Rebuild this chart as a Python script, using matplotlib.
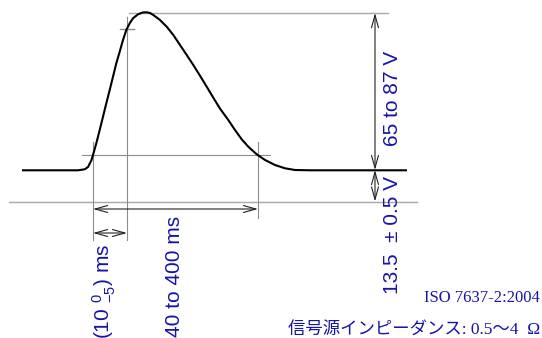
import matplotlib
matplotlib.use("Agg")
import matplotlib.pyplot as plt

plt.rcParams['mathtext.fontset'] = 'custom'
plt.rcParams['mathtext.rm'] = 'Liberation Sans'
plt.rcParams['mathtext.it'] = 'Liberation Sans'
plt.rcParams['mathtext.default'] = 'rm'

# Pulse waveform (schematic coordinates)
curve_x = [22, 78, 84.7, 88, 91.3, 93, 96.3, 99.7, 103, 106.3, 109.7, 113, 116.3,
           119.7, 123, 126.3, 129.7, 133, 138, 143, 146.7, 150, 153.3, 160, 166.7,
           173.3, 180, 186.7, 193.3, 200, 206.7, 213.3, 220, 228.3, 235, 241.7,
           248.3, 256.7, 265, 275, 285, 295, 310, 407]
curve_y = [170.3, 170.3, 169.3, 167, 160.5, 155, 143.3, 130, 116.7, 103.3, 90, 76.7, 63.3,
           51.7, 40, 30, 23.3, 18.3, 14.3, 12.4, 12.3, 13, 15, 20, 26.7,
           35, 45, 55, 65, 75.7, 86.7, 97.7, 108.6, 120, 130, 139.3,
           146.7, 154.3, 160, 165, 168.3, 170, 170.3, 170.3]

# Labels
label_amp = "65 to 87 V"
label_base = "13.5  \u00b1 0.5 V"
label_width = "40 to 400 ms"
label_rise = r"(10 ${}^{0}_{-5}$) ms"
label_std = "ISO 7637-2:2004"
label_imp = "信号源インピーダンス: 0.5～4  Ω"

blue = '#1414aa'
gray = '#8c8c8c'
lgray = '#a8a8a8'

fig = plt.figure(figsize=(5.42, 3.38), dpi=100)
ax = fig.add_axes([0, 0, 1, 1])
ax.set_xlim(0, 542)
ax.set_ylim(338, 0)
ax.axis('off')

# reference lines
ax.plot([129, 388], [13, 13], color=lgray, lw=1.0)
ax.plot([120, 134], [29, 29], color=gray, lw=1.0)
ax.plot([82, 270], [155, 155], color=gray, lw=0.8)
ax.plot([9, 417], [201.5, 201.5], color=lgray, lw=1.0)
ax.plot([93, 93], [142, 240], color=gray, lw=0.8)
ax.plot([127, 127], [17, 240], color=gray, lw=0.8)
ax.plot([258, 258], [142, 218], color=gray, lw=0.8)

# waveform
ax.plot(curve_x, curve_y, color='black', lw=1.5, solid_capstyle='butt', solid_joinstyle='round')

# dimension arrows
aprops = dict(arrowstyle='<->,head_length=0.9,head_width=0.25', color='#222222', lw=0.8,
              shrinkA=0, shrinkB=0)
ax.annotate('', xy=(93, 209), xytext=(258, 209), arrowprops=aprops)
ax.annotate('', xy=(93, 233), xytext=(127, 233), arrowprops=aprops)
ax.annotate('', xy=(375, 13), xytext=(375, 170), arrowprops=aprops)
ax.annotate('', xy=(375, 170), xytext=(375, 201.5), arrowprops=aprops)

tk = dict(color=blue, rotation=90, ha='center', va='center', family='Liberation Sans',
          fontsize=15, rotation_mode='anchor')
ax.text(393, 98.5, label_amp, **tk)
ax.text(393, 235, label_base, **tk)
ax.text(174, 276.5, label_width, **tk)
ax.text(104, 291, label_rise, **tk)

ax.text(540, 298, label_std, color=blue, ha='right', va='center',
        family='Liberation Serif', fontsize=12)
ax.text(540, 330, label_imp, color=blue, ha='right', va='center',
        family=['Liberation Serif', 'Noto Sans CJK JP'], fontsize=12.5)

fig.savefig('out.png', dpi=100)
